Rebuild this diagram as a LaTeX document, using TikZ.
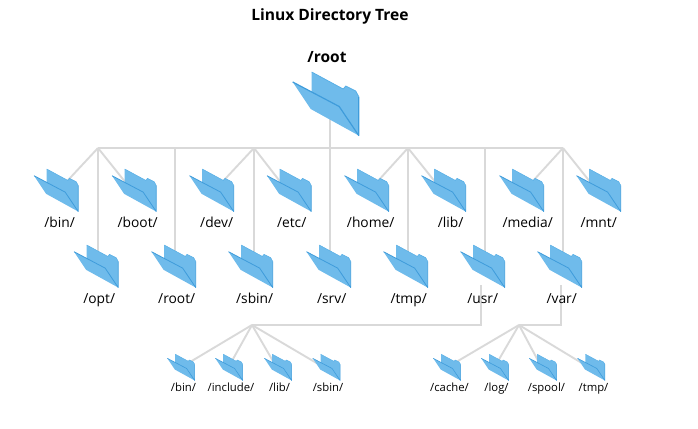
\documentclass[tikz,border=0pt]{standalone}
\usepackage{fontspec}
\setmainfont{Open Sans}[BoldFont={Open Sans Bold}]
\definecolor{folderfill}{HTML}{6FBBEB}
\definecolor{folderline}{HTML}{3F9CDB}
\definecolor{foldersoft}{HTML}{55ADE5}
\definecolor{linkgrey}{HTML}{D9D9D9}
\tikzset{
  x=1pt,y=-1pt,
  link/.style={draw=linkgrey,line width=1.9pt},
  anchorbox/.style={inner sep=0pt,minimum width=0pt,minimum height=0pt},
  biglabel/.style={font=\fontsize{13.8}{16}\selectfont,inner sep=0pt,anchor=base},
  smalllabel/.style={font=\fontsize{11.3}{13}\selectfont,inner sep=0pt,anchor=base},
  pics/folder/.style={code={
    \path[fill=folderfill] (19,-10) -- (50.5,7) -- (53,4) -- (63,9) -- (66,14.5) -- (66,53.5)
      -- (18,27) -- (0,0) -- (19,10) -- cycle;
    \draw[folderline,line width=#1,line join=round]
      (0,0) -- (46.5,24.5) -- (66,53.5) -- (66,14.5);
    \draw[foldersoft,line width=0.6*#1,line join=round]
      (66,14.5) -- (63,9) -- (53,4) -- (50.5,7) -- (19,-10);
  }}
}
\newcommand{\midlabel}[4]{\node[biglabel] (#1) at (#2+0.7,#3) {#4};}
\newcommand{\lowlabel}[4]{\node[smalllabel] (#1) at (#2+0.5,#3) {#4};}
\begin{document}
\begin{tikzpicture}
\useasboundingbox (0,0) rectangle (698,428);
\node[inner sep=0pt,anchor=base,font=\fontsize{15.6}{18}\selectfont\bfseries] (title) at (330,20.5) {Linux Directory Tree};
\node[inner sep=0pt,anchor=base,font=\fontsize{15.5}{18}\selectfont\bfseries] (rootl) at (327,63) {/root};
\node[anchorbox] (top) at (330,105) {};
\coordinate (h1) at (98,148);
\coordinate (h2) at (175,148);
\coordinate (h3) at (254,148);
\coordinate (h4) at (330,148);
\coordinate (h5) at (408,148);
\coordinate (h6) at (485,148);
\coordinate (h7) at (563,148);
\coordinate (u1) at (252,325);
\coordinate (u2) at (519,325);
\coordinate (usrdrop) at (481,285);
\coordinate (vardrop) at (561,285);
\coordinate (usrbend) at (481,325);
\coordinate (varbend) at (561,325);
\node[anchorbox] (bin) at (56,193) {};
\node[anchorbox] (boot) at (134,193) {};
\node[anchorbox] (dev) at (212,193) {};
\node[anchorbox] (etc) at (289,193) {};
\node[anchorbox] (home) at (367,193) {};
\node[anchorbox] (lib) at (444,193) {};
\node[anchorbox] (media) at (522,193) {};
\node[anchorbox] (mnt) at (599,193) {};
\node[anchorbox] (opt) at (96,269) {};
\node[anchorbox] (rootd) at (174,269) {};
\node[anchorbox] (sbin) at (251,269) {};
\node[anchorbox] (srv) at (329,269) {};
\node[anchorbox] (tmp) at (406,269) {};
\node[anchorbox] (usr) at (483,269) {};
\node[anchorbox] (var) at (560,269) {};
\node[anchorbox] (ubin) at (180,368) {};
\node[anchorbox] (uinc) at (228,368) {};
\node[anchorbox] (ulib) at (277,368) {};
\node[anchorbox] (usbin) at (325,368) {};
\node[anchorbox] (vcache) at (446,368) {};
\node[anchorbox] (vlog) at (494,368) {};
\node[anchorbox] (vspool) at (542,368) {};
\node[anchorbox] (vtmp) at (590,368) {};
% connectors
\draw[link] (h1) -- (h7);
\draw[link] (top) -- (h4);
\draw[link] (h1) -- (bin);
\draw[link] (h1) -- (boot);
\draw[link] (h3) -- (dev);
\draw[link] (h3) -- (etc);
\draw[link] (h5) -- (home);
\draw[link] (h5) -- (lib);
\draw[link] (h7) -- (media);
\draw[link] (h7) -- (mnt);
\draw[link] (h1) -- (h1 |- opt);
\draw[link] (h2) -- (h2 |- rootd);
\draw[link] (h3) -- (h3 |- sbin);
\draw[link] (h4) -- (h4 |- srv);
\draw[link] (h5) -- (h5 |- tmp);
\draw[link] (h6) -- (h6 |- usr);
\draw[link] (h7) -- (h7 |- var);
\draw[link] (usrdrop) -- (usrbend) -- (u1);
\draw[link] (vardrop) -- (varbend) -- (u2);
\draw[link] (u1) -- (ubin);
\draw[link] (u1) -- (uinc);
\draw[link] (u1) -- (ulib);
\draw[link] (u1) -- (usbin);
\draw[link] (u2) -- (vcache);
\draw[link] (u2) -- (vlog);
\draw[link] (u2) -- (vspool);
\draw[link] (u2) -- (vtmp);
% folders
\pic at (292.7,82) {folder=1.2pt};
\foreach \fx in {34,112,189.5,267,344.5,421.5,499.5,576.5} {\pic[scale=0.67] at (\fx,175.7) {folder=0.8pt};}
\foreach \fx in {74,151.5,228.5,306.5,383.5,460.5,537.5} {\pic[scale=0.67] at (\fx,251.7) {folder=0.8pt};}
\foreach \fx in {167.3,215.3,264.3,312.7,433.2,481.2,529.2,577.5} {\pic[scale=0.415] at (\fx,358.3) {folder=0.6pt};}
% labels
\midlabel{binl}{59}{227.5}{/bin/}
\midlabel{bootl}{137}{227.5}{/boot/}
\midlabel{devl}{216}{227.5}{/dev/}
\midlabel{etcl}{291}{227.5}{/etc/}
\midlabel{homel}{370}{227.5}{/home/}
\midlabel{libl}{450}{227.5}{/lib/}
\midlabel{medial}{527}{227.5}{/media/}
\midlabel{mntl}{598}{227.5}{/mnt/}
\midlabel{optl}{98.5}{303.5}{/opt/}
\midlabel{rootdl}{176}{303.5}{/root/}
\midlabel{sbinl}{254}{303.5}{/sbin/}
\midlabel{srvl}{331}{303.5}{/srv/}
\midlabel{tmpl}{408}{303.5}{/tmp/}
\midlabel{usrl}{482}{303.5}{/usr/}
\midlabel{varl}{561}{303.5}{/var/}
\lowlabel{ubinl}{183}{391.5}{/bin/}
\lowlabel{uincl}{230.5}{391.5}{/include/}
\lowlabel{ulibl}{279}{391.5}{/lib/}
\lowlabel{usbinl}{327.5}{391.5}{/sbin/}
\lowlabel{vcachel}{449}{391.5}{/cache/}
\lowlabel{vlogl}{496}{391.5}{/log/}
\lowlabel{vspooll}{546}{391.5}{/spool/}
\lowlabel{vtmpl}{593}{391.5}{/tmp/}
\end{tikzpicture}
\end{document}
